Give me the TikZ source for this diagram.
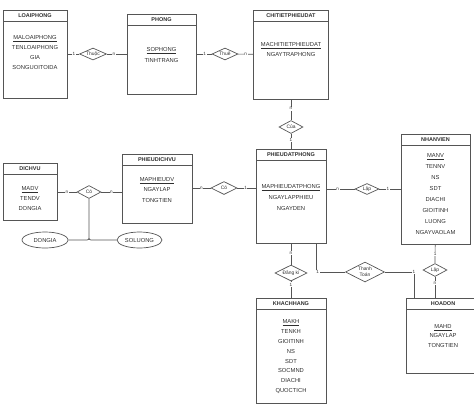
\documentclass[tikz,border=0pt]{standalone}
\usepackage{fontspec}
\setmainfont{Liberation Sans}
\usepackage{tikz}
\usetikzlibrary{shapes.geometric,positioning}
\definecolor{erline}{HTML}{555555}
\definecolor{ertext}{HTML}{2E2E2E}

\begin{document}
\begin{tikzpicture}[
        x=1pt, y=-1pt,
        every node/.style={text=ertext},
        entity/.style={rectangle, draw=erline, line width=0.7pt, inner sep=0pt},
        head/.style={rectangle, draw=erline, line width=0.7pt, minimum height=11pt, inner sep=0pt, font=\fontsize{5.5}{6}\selectfont\bfseries},
        attr/.style={align=center, inner sep=0pt, font=\fontsize{5.8}{#1}\selectfont},
        attr/.default=10.5,
        rel/.style={diamond, aspect=2.2, draw=erline, line width=0.7pt, inner sep=0pt, align=center, font=\fontsize{4.9}{5.6}\selectfont},
        prop/.style={ellipse, draw=erline, line width=0.7pt, inner sep=0pt, minimum height=16pt, font=\fontsize{5.8}{7}\selectfont},
        card/.style={fill=white, inner sep=0.6pt, font=\fontsize{4.6}{4.6}\selectfont},
        conn/.style={draw=erline, line width=0.7pt}
    ]
        \useasboundingbox (0,0) rectangle (474,408);

        % entities
        \node[entity, minimum width=64pt, minimum height=88pt] (loaiphong) at (35,54) {};
        \node[head, minimum width=64pt, below=0pt of loaiphong.north] (loaiphong-h) {LOAIPHONG};
        \node[attr=10, below=13.9pt of loaiphong-h] (loaiphong-a) {\underline{MALOAIPHONG}\\TENLOAIPHONG\\GIA\\SONGUOITOIDA};

        \node[entity, minimum width=69pt, minimum height=80pt] (phong) at (161.5,54) {};
        \node[head, minimum width=69pt, below=0pt of phong.north] (phong-h) {PHONG};
        \node[attr=11, below=21.9pt of phong-h] (phong-a) {\underline{SOPHONG}\\TINHTRANG};

        \node[entity, minimum width=75pt, minimum height=89pt] (chitiet) at (291,54.5) {};
        \node[head, minimum width=75pt, below=0pt of chitiet.north] (chitiet-h) {CHITIETPHIEUDAT};
        \node[attr=10, below=20.9pt of chitiet-h] (chitiet-a) {\underline{MACHITIETPHIEUDAT}\\NGAYTRAPHONG};

        \node[entity, minimum width=70pt, minimum height=94pt] (pdp) at (291,196) {};
        \node[head, minimum width=70pt, below=0pt of pdp.north] (pdp-h) {PHIEUDATPHONG};
        \node[attr=11, below=23.9pt of pdp-h] (pdp-a) {\underline{MAPHIEUDATPHONG}\\NGAYLAPPHIEU\\NGAYDEN};

        \node[entity, minimum width=69pt, minimum height=110pt] (nhanvien) at (435.5,189) {};
        \node[head, minimum width=69pt, below=0pt of nhanvien.north] (nhanvien-h) {NHANVIEN};
        \node[attr=11, below=7.9pt of nhanvien-h] (nhanvien-a) {\underline{MANV}\\TENNV\\NS\\SDT\\DIACHI\\GIOITINH\\LUONG\\NGAYVAOLAM};

        \node[entity, minimum width=70pt, minimum height=69pt] (pdv) at (157,188.5) {};
        \node[head, minimum width=70pt, below=0pt of pdv.north] (pdv-h) {PHIEUDICHVU};
        \node[attr, below=11.9pt of pdv-h] (pdv-a) {\underline{MAPHIEUDV}\\NGAYLAP\\TONGTIEN};

        \node[entity, minimum width=54pt, minimum height=57pt] (dichvu) at (30,192) {};
        \node[head, minimum width=54pt, below=0pt of dichvu.north] (dichvu-h) {DICHVU};
        \node[attr=10, below=11.9pt of dichvu-h] (dichvu-a) {\underline{MADV}\\TENDV\\DONGIA};

        \node[entity, minimum width=70pt, minimum height=105pt] (khachhang) at (291,350.5) {};
        \node[head, minimum width=70pt, below=0pt of khachhang.north] (khachhang-h) {KHACHHANG};
        \node[attr=9.9, below=9.9pt of khachhang-h] (khachhang-a) {\underline{MAKH}\\TENKH\\GIOITINH\\NS\\SDT\\SOCMND\\DIACHI\\QUOCTICH};

        \node[entity, minimum width=74pt, minimum height=75pt] (hoadon) at (443,335.5) {};
        \node[head, minimum width=74pt, below=0pt of hoadon.north] (hoadon-h) {HOADON};
        \node[attr=9.5, below=14.9pt of hoadon-h] (hoadon-a) {\underline{MAHD}\\NGAYLAP\\TONGTIEN};

        % relationships
        \node[rel, minimum width=27pt, minimum height=12pt] (thuoc) at (93,54) {Thuộc};
        \node[rel, minimum width=26pt, minimum height=12pt] (thue) at (225,54) {Thuê};
        \node[rel, minimum width=24pt, minimum height=13pt] (cua) at (291,127) {Của};
        \node[rel, minimum width=24pt, minimum height=11pt] (lap1) at (367,189) {Lập};
        \node[rel, minimum width=26pt, minimum height=13pt] (co2) at (224,188) {Có};
        \node[rel, minimum width=24pt, minimum height=13pt] (co1) at (89,192) {Có};
        \node[rel, minimum width=32pt, minimum height=16pt] (dangki) at (291,273) {Đăng kí};
        \node[rel, minimum width=39pt, minimum height=20pt] (thanhtoan) at (365,272) {Thanh\\Toán};
        \node[rel, minimum width=24pt, minimum height=13pt] (lap2) at (435,270) {Lập};

        % attributes of Có
        \node[prop, minimum width=46pt] (dongia) at (45,240) {DONGIA};
        \node[prop, minimum width=45pt] (soluong) at (139.5,240) {SOLUONG};

        \coordinate (pdp-tt) at ([xshift=25pt]pdp.south);
        \coordinate (hoadon-tt) at ([xshift=-29pt]hoadon.north);

        \path[conn]
            (loaiphong) edge node[card, pos=.55] {1} (thuoc)
            (thuoc) edge node[card, pos=.35] {n} (phong)
            (phong) edge node[card, pos=.55] {1} (thue)
            (thue) edge node[card] {n} (chitiet)
            (chitiet) edge node[card, pos=.45] {n} (cua)
            (cua) edge node[card, pos=.4] {1} (pdp)
            (pdp.east |- lap1) edge node[card, pos=.4] {n} (lap1)
            (lap1) edge node[card, pos=.4] {1} (nhanvien)
            (pdv.east |- co2) edge node[card] {n} (co2)
            (co2) edge node[card, pos=.45] {1} (pdp.west |- co2)
            (dichvu) edge node[card] {n} (co1)
            (co1) edge node[card] {n} (pdv.west |- co1)
            (pdp) edge node[card, pos=.45] {n} (dangki)
            (dangki) edge node[card, pos=.2] {1} (khachhang)
            (nhanvien) edge node[card] {1} (lap2)
            (lap2) edge node[card, pos=.3] {n} (lap2 |- hoadon.north);

        \draw[conn, rounded corners=2pt] (co1.south) |- (dongia) (co1.south) |- (soluong);
        \draw[conn] (pdp-tt) |- node[card, pos=.53] {1} (thanhtoan);
        \draw[conn] (thanhtoan) -| node[card, pos=.5] {1} (hoadon-tt);
    \end{tikzpicture}
\end{document}
